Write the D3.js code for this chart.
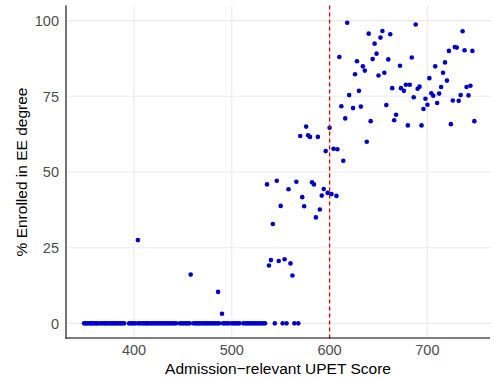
<!DOCTYPE html>
<html>
<head>
<meta charset="utf-8">
<script src="https://cdn.jsdelivr.net/npm/d3@7"></script>
<style>
  body { margin: 0; background: #fff; }
  .tick-label { font-family: "Liberation Sans", Arial, sans-serif; fill: #4d4d4d; }
  .axis-title { font-family: "Liberation Sans", Arial, sans-serif; fill: #000; }
</style>
</head>
<body>
<div class="canvas"></div>
<script>
// UPET scores (x) and share enrolled in EE (y)
const scoresAbove = [618, 688, 640, 654, 652, 662, 646, 736, 728, 730, 738, 746, 722, 648, 610, 644, 660, 684, 718, 628,
  634, 636, 626, 650, 656, 672, 708, 716, 702, 720, 678, 682, 664, 673, 676, 690, 692, 714, 740, 744,
  630, 620, 686, 704, 706, 712, 698, 734, 742, 726, 732, 710, 700, 696, 612, 624, 632, 658, 616, 642,
  668, 666, 680, 694, 724, 748, 638, 576, 570, 578, 580, 588, 600, 596, 604, 608, 614];
const enrolledAbove = [99.3, 98.7, 95.7, 96.6, 94.4, 95.5, 92.4, 96.5, 91.3, 91.1, 90.2, 90.0, 90.0, 89.1, 88.0, 87.3, 87.2, 87.8, 86.2, 86.6,
  84.9, 83.5, 82.3, 81.9, 82.8, 85.1, 84.9, 82.8, 81.0, 80.2, 78.8, 78.8, 77.7, 77.7, 76.8, 77.5, 78.2, 78.1, 78.1, 78.5,
  76.8, 75.4, 74.7, 76.0, 75.2, 75.9, 74.2, 75.4, 75.3, 73.6, 73.5, 72.8, 72.2, 70.8, 71.7, 71.1, 71.6, 72.1, 67.7, 66.8,
  68.9, 67.1, 65.4, 65.4, 65.8, 66.8, 60.0, 65.0, 61.9, 62.1, 61.6, 61.6, 64.6, 56.9, 57.7, 57.5, 53.7];

const scoresMid = [536, 546, 566, 558, 582, 584, 572, 594, 598, 592, 602, 607, 550, 574, 590, 586, 542,
  540, 538, 548, 554, 560, 562, 404, 458, 486, 490];
const enrolledMid = [45.9, 47.1, 46.8, 44.3, 46.6, 45.9, 41.7, 44.4, 43.1, 42.2, 42.7, 42.1, 38.8, 38.7, 37.6, 35.0, 32.8,
  20.9, 19.1, 20.6, 21.2, 19.8, 15.8, 27.5, 16.1, 10.4, 3.2];

// applicants with nobody enrolled
const scoresZero = [349, 351, 352, 354, 356, 357, 359, 361, 362, 364, 366, 368, 370, 371, 373, 375, 377, 379, 380, 382,
  384, 386, 388, 390, 395, 397, 399, 401, 404, 406, 408, 410, 412, 413, 415, 417, 419, 421, 423, 425,
  427, 429, 431, 433, 435, 437, 439, 441, 443, 447, 449, 451, 453, 455, 457, 461, 463, 465, 467, 469,
  471, 473, 475, 477, 479, 481, 483, 485, 487, 491, 493, 495, 497, 500, 502, 504, 506, 508, 512, 514,
  516, 518, 520, 522, 524, 526, 528, 530, 532, 534, 544, 552, 556, 564, 568];

const cutoff = 600;
const xTicks = [400, 500, 600, 700];
const yTicks = [0, 25, 50, 75, 100];

const points = [
  ...scoresAbove.map((s, i) => ({ score: s, pct: enrolledAbove[i] })),
  ...scoresMid.map((s, i) => ({ score: s, pct: enrolledMid[i] })),
  ...scoresZero.map(s => ({ score: s, pct: 0 }))
];

const dims = { width: 494, height: 381 };
const panel = { left: 66, right: 490, top: 5.5, bottom: 338.5 };

const svg = d3.select('.canvas')
  .append('svg')
  .attr('width', dims.width)
  .attr('height', dims.height);

const x = d3.scaleLinear().domain([330.5, 764]).range([panel.left, panel.right]);
const y = d3.scaleLinear().domain([-5, 105]).range([panel.bottom, panel.top]);

// grid
svg.append('g').selectAll('line.gx')
  .data(xTicks).enter().append('line')
  .attr('x1', d => x(d)).attr('x2', d => x(d))
  .attr('y1', panel.top).attr('y2', panel.bottom)
  .attr('stroke', '#ebebeb').attr('stroke-width', 1.1);

svg.append('g').selectAll('line.gy')
  .data(yTicks).enter().append('line')
  .attr('x1', panel.left).attr('x2', panel.right)
  .attr('y1', d => y(d)).attr('y2', d => y(d))
  .attr('stroke', '#ebebeb').attr('stroke-width', 1.1);

// points
svg.append('g').selectAll('circle')
  .data(points).enter().append('circle')
  .attr('cx', d => x(d.score))
  .attr('cy', d => y(d.pct))
  .attr('r', 2.3)
  .attr('fill', 'mediumblue');

// cutoff line
svg.append('line')
  .attr('x1', x(cutoff)).attr('x2', x(cutoff))
  .attr('y1', panel.top).attr('y2', panel.bottom)
  .attr('stroke', '#dd0000').attr('stroke-width', 1.3)
  .attr('stroke-dasharray', '4,3');

// axes lines
svg.append('line')
  .attr('x1', panel.left).attr('x2', panel.left)
  .attr('y1', panel.top).attr('y2', panel.bottom + 0.5)
  .attr('stroke', '#000').attr('stroke-width', 1.1);
svg.append('line')
  .attr('x1', panel.left).attr('x2', panel.right)
  .attr('y1', panel.bottom - 0.5).attr('y2', panel.bottom - 0.5)
  .attr('stroke', '#000').attr('stroke-width', 1.1);

// tick labels
svg.append('g').selectAll('text')
  .data(xTicks).enter().append('text')
  .attr('class', 'tick-label')
  .attr('x', d => x(d))
  .attr('y', 355)
  .attr('text-anchor', 'middle')
  .attr('font-size', 14.5)
  .text(d => d);

svg.append('g').selectAll('text')
  .data(yTicks).enter().append('text')
  .attr('class', 'tick-label')
  .attr('x', 59)
  .attr('y', d => y(d))
  .attr('dy', '0.36em')
  .attr('text-anchor', 'end')
  .attr('font-size', 14.5)
  .text(d => d);

// titles
svg.append('text')
  .attr('class', 'axis-title')
  .attr('x', (panel.left + panel.right) / 2)
  .attr('y', 374)
  .attr('text-anchor', 'middle')
  .attr('font-size', 15.5)
  .text('Admission\u2212relevant UPET Score');

svg.append('text')
  .attr('class', 'axis-title')
  .attr('transform', `translate(27, ${(panel.top + panel.bottom) / 2}) rotate(-90)`)
  .attr('text-anchor', 'middle')
  .attr('font-size', 15.5)
  .text('% Enrolled in EE degree');
</script>
</body>
</html>
